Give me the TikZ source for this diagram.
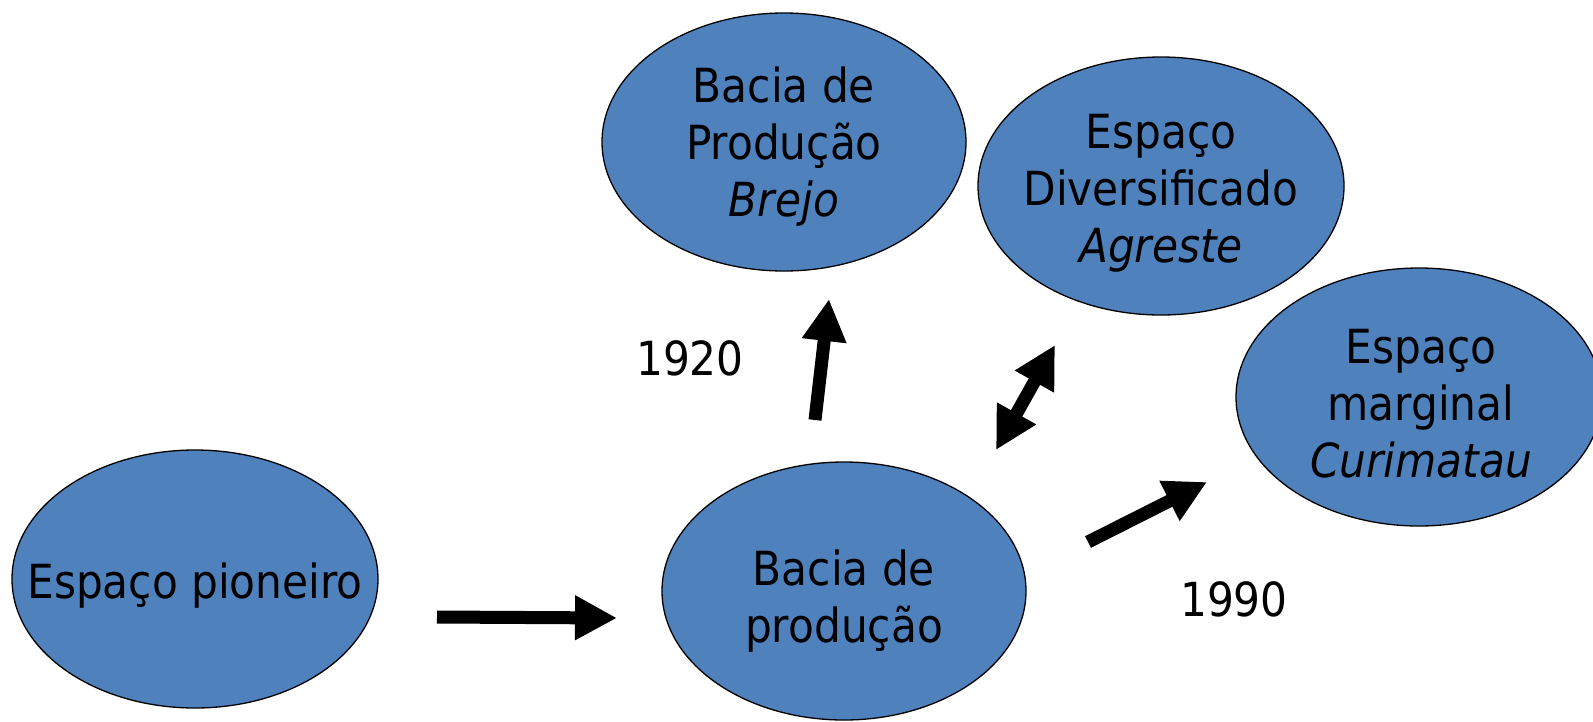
\documentclass[tikz,border=0pt]{standalone}
\usepackage{fontspec}
\setmainfont{DejaVu Sans Condensed}
\usetikzlibrary{shapes.geometric,arrows.meta}
\definecolor{blobfill}{HTML}{4F81BD}
\tikzset{
  blob/.style={ellipse, draw=black, line width=1.3pt, fill=blobfill, inner sep=0pt},
  blobtext/.style={align=center, inner sep=0pt, yshift=-7pt, font=\fontsize{47}{57}\selectfont},
  bigarrow/.style={line width=13pt, -{Triangle[length=42pt,width=42pt]}},
  bigdarrow/.style={line width=13pt, {Triangle[length=42pt,width=42pt]}-{Triangle[length=42pt,width=42pt]}},
  yearlabel/.style={font=\fontsize{47}{57}\selectfont, inner sep=0pt}
}
\begin{document}
\begin{tikzpicture}[x=1pt,y=-1pt]
\useasboundingbox (0,0) rectangle (1593,721);
\node[blob, minimum width=366pt, minimum height=258pt] (pioneiro) at (195,579) {};
\node[blob, minimum width=364pt, minimum height=258pt] (bacia) at (844,591) {};
\node[blob, minimum width=364pt, minimum height=258pt] (brejo) at (784,142) {};
\node[blob, minimum width=366pt, minimum height=258pt] (agreste) at (1161,186) {};
\node[blob, minimum width=366pt, minimum height=258pt] (curimatau) at (1419,397) {};
\node[blobtext] (tpioneiro) at (pioneiro) {Espaço pioneiro};
\node[blobtext, yshift=-3pt] (tbacia) at (bacia) {Bacia de\\produção};
\node[blobtext, yshift=2pt] (tbrejo) at (brejo) {Bacia de\\Produção\\\textit{Brejo}};
\node[blobtext] (tagreste) at (agreste) {Espaço\\Diversificado\\\textit{Agreste}};
\node[blobtext, xshift=2pt] (tcurimatau) at (curimatau) {Espaço\\marginal\\\textit{Curimatau}};
\node[yearlabel] (y1920) at (690,358) {1920};
\node[yearlabel] (y1990) at (1234,599) {1990};
\coordinate (a1s) at (437,617);
\coordinate (a1e) at (617,618);
\coordinate (a2s) at (815,420);
\coordinate (a2e) at (829,299);
\coordinate (a3s) at (996,450);
\coordinate (a3e) at (1055,345);
\coordinate (a4s) at (1088,542);
\coordinate (a4e) at (1207,482);
\draw[bigarrow] (a1s) -- (a1e);
\draw[bigarrow] (a2s) -- (a2e);
\draw[bigdarrow] (a3s) -- (a3e);
\draw[bigarrow] (a4s) -- (a4e);
\end{tikzpicture}
\end{document}
